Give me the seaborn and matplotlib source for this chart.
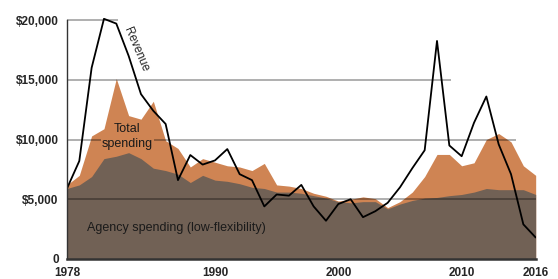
import matplotlib
matplotlib.use("Agg")
import matplotlib.pyplot as plt
import seaborn as sns
import numpy as np
import pandas as pd

years = list(range(1978, 2017))

# revenue, $ millions
revenue = [5900, 8200, 16000, 20100, 19700, 17000, 13800, 12400, 11300, 6600,
           8700, 7900, 8250, 9200, 7100, 6600, 4400, 5400, 5300, 6200,
           4400, 3200, 4600, 5000, 3500, 4000, 4700, 6000, 7600, 9100,
           18250, 9500, 8600, 11400, 13600, 9600, 7100, 2900, 1800]

# total spending
total_spending = [6200, 7000, 10300, 10900, 15100, 12000, 11700, 13200, 9900, 9250,
                  7700, 8400, 8100, 7800, 7700, 7400, 8000, 6200, 6100, 5900,
                  5500, 5250, 4850, 5000, 5200, 5050, 4300, 4800, 5600, 6900,
                  8750, 8750, 7800, 8050, 10000, 10500, 9800, 7800, 7000]

# agency spending (low-flexibility)
agency_spending = [5900, 6200, 6900, 8400, 8600, 8900, 8400, 7600, 7400, 7100,
                   6400, 7000, 6600, 6500, 6300, 6000, 5900, 5600, 5600, 5500,
                   5300, 5100, 4800, 4700, 4800, 4800, 4200, 4600, 4900, 5100,
                   5150, 5300, 5400, 5600, 5900, 5800, 5800, 5800, 5400]

year_ticks = [1978, 1990, 2000, 2010, 2016]
y_ticks = [0, 5000, 10000, 15000, 20000]
y_labels = ["0", "$5,000", "$10,000", "$15,000", "$20,000"]
grid_ends = [2016, 2016, 2014.4, 2009.1, 1982.1]

df = pd.DataFrame({"year": years, "revenue": revenue,
                   "total": total_spending, "agency": agency_spending})

sns.set_style("white")
plt.rcParams["font.family"] = ["Liberation Sans", "DejaVu Sans"]

fig = plt.figure(figsize=(5.58, 2.79), dpi=100)
ax = fig.add_axes([0.12, 0.0717, 0.84, 0.878])

orange = "#CF8453"
brown = "#716155"

ax.fill_between(df["year"], 0, df["total"], color=orange, lw=0, zorder=1)
ax.fill_between(df["year"], 0, df["agency"], color=brown, lw=0, zorder=2)

for yv, xe in zip(y_ticks[1:], grid_ends[1:]):
    ax.hlines(yv, 1978, xe, color="black", alpha=0.4, lw=1.1, zorder=3)

sns.lineplot(data=df, x="year", y="revenue", color="black", lw=1.3,
             ax=ax, zorder=5)

ax.set_xlim(1978, 2016)
ax.set_ylim(0, 20500)
ax.set_xlabel("")
ax.set_ylabel("")

ax.set_xticks(year_ticks)
ax.set_xticklabels([str(y) for y in year_ticks], fontsize=8.5, fontweight="bold")
ax.set_xticks(years, minor=True)
ax.tick_params(axis="x", which="major", direction="in", length=5, width=1,
               color="#333333", pad=6)
ax.tick_params(axis="x", which="minor", direction="in", length=3, width=1,
               color="#333333")
ax.set_yticks(y_ticks)
ax.set_yticklabels(y_labels, fontsize=8.5, fontweight="bold")
ax.tick_params(axis="y", length=0, pad=6)

for s in ["top", "right"]:
    ax.spines[s].set_visible(False)
ax.spines["left"].set_bounds(0, 20000)
ax.spines["left"].set_color("#333333")
ax.spines["left"].set_linewidth(1)
ax.spines["bottom"].set_color("#333333")
ax.spines["bottom"].set_linewidth(1.8)
ax.spines["left"].set_zorder(6)
ax.spines["bottom"].set_zorder(6)

ax.text(1983.6, 17500, "Revenue", rotation=-67, fontsize=8.5,
        ha="center", va="center", zorder=6)
ax.text(1982.9, 10900, "Total", fontsize=9, ha="center",
        va="center", zorder=6, color="#1a1a1a")
ax.text(1982.9, 9650, "spending", fontsize=9, ha="center",
        va="center", zorder=6, color="#1a1a1a",
        bbox=dict(boxstyle="square,pad=0.1", fc=orange, ec="none"))
ax.text(1986.9, 2600, "Agency spending (low-flexibility)", fontsize=9,
        ha="center", va="center", color="#1a1a1a", zorder=6)

fig.savefig("out.png", dpi=100)
